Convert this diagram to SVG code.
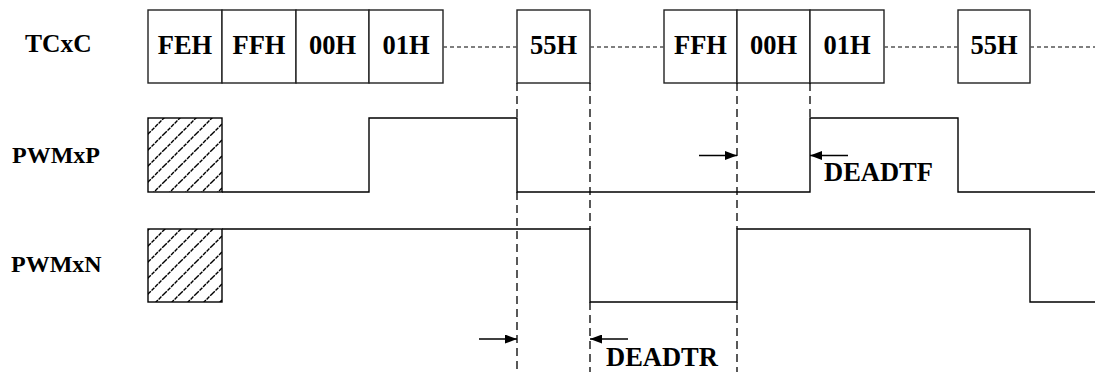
<svg xmlns="http://www.w3.org/2000/svg" width="1095" height="372" viewBox="0 0 1095 372">
<style>
.lbl{font-family:"Liberation Serif","Times New Roman",serif;font-weight:bold;font-size:24px;fill:#000}
.dt{font-family:"Liberation Serif","Times New Roman",serif;font-weight:bold;font-size:26.5px;fill:#000}
.bx{font-family:"Liberation Serif","Times New Roman",serif;font-weight:bold;font-size:26.5px;fill:#000;text-anchor:middle}
.box{fill:#fff;stroke:#222;stroke-width:1.4}
.wave{fill:none;stroke:#000;stroke-width:1.4}
.gap{fill:none;stroke:#555;stroke-width:1.3;stroke-dasharray:4,3}
.vd{fill:none;stroke:#000;stroke-width:1.3;stroke-dasharray:8,5}
.arr{fill:none;stroke:#000;stroke-width:1.3}
</style>
<defs>
<pattern id="hatch" patternUnits="userSpaceOnUse" width="16" height="16" x="148" y="118">
<path d="M0,16 L16,0 M-4,4 L4,-4 M12,20 L20,12" stroke="#000" stroke-width="1.4" stroke-dasharray="4,1"/>
</pattern>
<marker id="ah" viewBox="0 0 12 9" refX="12" refY="4.5" markerWidth="12" markerHeight="9" markerUnits="userSpaceOnUse" orient="auto">
<path d="M0,0 L12,4.5 L0,9 z" fill="#000"/>
</marker>
</defs>
<g id="labels">
<text class="lbl" x="25" y="52" font-size="25.5" style="font-size:25.5px">TCxC</text>
<text class="lbl" x="12" y="163">PWMxP</text>
<text class="lbl" x="11" y="272">PWMxN</text>
</g>
<g id="tcxc">
<g id="box-FEH"><rect class="box" x="148" y="10" width="74" height="73"/><text class="bx" x="185" y="54">FEH</text></g>
<g id="box-FFH1"><rect class="box" x="222" y="10" width="74" height="73"/><text class="bx" x="259" y="54">FFH</text></g>
<g id="box-00H1"><rect class="box" x="296" y="10" width="73" height="73"/><text class="bx" x="332.5" y="54">00H</text></g>
<g id="box-01H1"><rect class="box" x="369" y="10" width="74" height="73"/><text class="bx" x="406" y="54">01H</text></g>
<g id="box-55H1"><rect class="box" x="517" y="10" width="73" height="73"/><text class="bx" x="553.5" y="54">55H</text></g>
<g id="box-FFH2"><rect class="box" x="664" y="10" width="73" height="73"/><text class="bx" x="700.5" y="54">FFH</text></g>
<g id="box-00H2"><rect class="box" x="737" y="10" width="73" height="73"/><text class="bx" x="773.5" y="54">00H</text></g>
<g id="box-01H2"><rect class="box" x="810" y="10" width="74" height="73"/><text class="bx" x="847" y="54">01H</text></g>
<g id="box-55H2"><rect class="box" x="958" y="10" width="72" height="73"/><text class="bx" x="994" y="54">55H</text></g>
</g>
<g id="connectors">
<path class="gap" d="M443,47 H517 M590,47 H664 M884,47 H958 M1030,47 H1095"/>
<path class="vd" d="M517,83 V118 M517,192 V372 M590,83 V229 M590,302 V372 M737,83 V229 M737,302 V372 M810,83 V118"/>
<path class="arr" d="M699,155.5 H737" marker-end="url(#ah)"/>
<path class="arr" d="M848,155.5 H810" marker-end="url(#ah)"/>
<path class="arr" d="M479,339 H517" marker-end="url(#ah)"/>
<path class="arr" d="M628,339 H590" marker-end="url(#ah)"/>
</g>
<g id="pwmxp">
<rect x="148" y="118" width="74" height="74" fill="url(#hatch)" stroke="#000" stroke-width="1.4"/>
<path class="wave" d="M222,192 H369 V118 H517 V192 H810 V118 H958 V192 H1095"/>
</g>
<g id="pwmxn">
<rect x="148" y="229" width="74" height="73" fill="url(#hatch)" stroke="#000" stroke-width="1.4"/>
<path class="wave" d="M222,229 H590 V302 H737 V229 H1030 V302 H1095"/>
</g>
<g id="deadtimes">
<text class="dt" x="824" y="181">DEADTF</text>
<text class="dt" x="606" y="366">DEADTR</text>
</g>
</svg>
